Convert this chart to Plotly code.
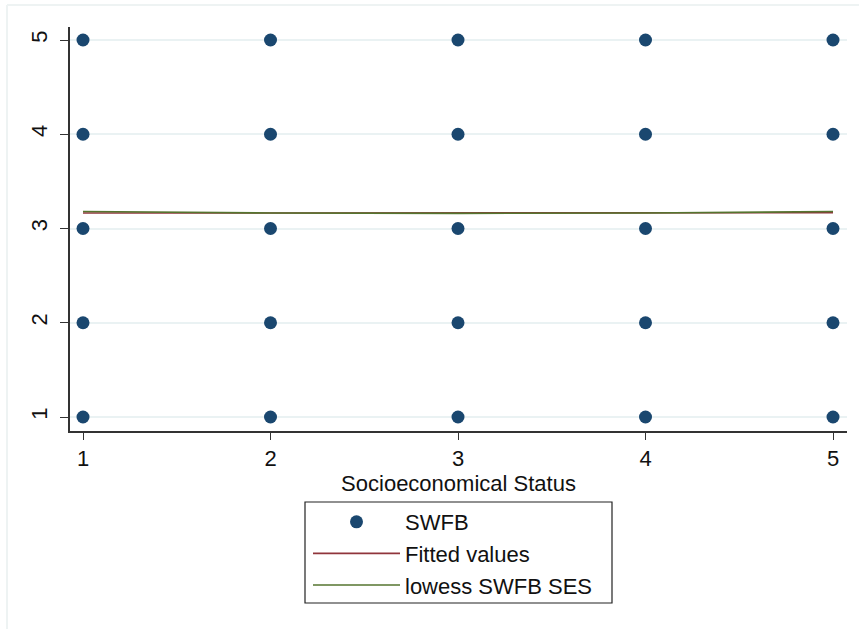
import plotly.graph_objects as go

# Observed SWFB scores by socioeconomic status (every combination occurs)
ses_obs = [1, 1, 1, 1, 1, 2, 2, 2, 2, 2, 3, 3, 3, 3, 3, 4, 4, 4, 4, 4, 5, 5, 5, 5, 5]
swfb_obs = [1, 2, 3, 4, 5, 1, 2, 3, 4, 5, 1, 2, 3, 4, 5, 1, 2, 3, 4, 5, 1, 2, 3, 4, 5]

# Linear fit
fit_x = [1, 2, 3, 4, 5]
fit_y = [3.164, 3.165, 3.166, 3.167, 3.168]

# Lowess smoother
low_x = [1, 2, 3, 4, 5]
low_y = [3.180, 3.165, 3.160, 3.164, 3.180]

tick_vals = [1, 2, 3, 4, 5]
tick_text = ["1", "2", "3", "4", "5"]

W, H = 859, 629
ML, MR, MT, MB = 70, 12, 27, 198
PW, PH = W - ML - MR, H - MT - MB

FONT = "Liberation Sans, Arial, sans-serif"
FS = 22
NAVY = "#1a476f"
RED = "#90353b"
GREEN = "#55752f"

fig = go.Figure()
fig.add_trace(go.Scatter(
    x=ses_obs, y=swfb_obs, mode="markers", name="SWFB",
    marker=dict(color=NAVY, size=13, line=dict(width=0)),
    legendgroup="a",
))
fig.add_trace(go.Scatter(
    x=fit_x, y=fit_y, mode="lines", name="Fitted values",
    line=dict(color=RED, width=1.6), legendgroup="b",
))
fig.add_trace(go.Scatter(
    x=low_x, y=low_y, mode="lines", name="lowess SWFB SES",
    line=dict(color=GREEN, width=1.6), legendgroup="c",
))


def px_x(p):
    return (p - ML) / PW


def px_y(p):
    return 1 - (p - MT) / PH


shapes = [
    # legend frame
    dict(type="rect", xref="paper", yref="paper",
         x0=px_x(305), x1=px_x(612), y0=px_y(603), y1=px_y(502),
         line=dict(color="#222222", width=1.2), fillcolor="rgba(0,0,0,0)"),
    # faint outer graph region border
    dict(type="line", xref="paper", yref="paper",
         x0=px_x(7), x1=px_x(7), y0=px_y(5), y1=px_y(640),
         line=dict(color="#eef3f3", width=2)),
    dict(type="line", xref="paper", yref="paper",
         x0=px_x(7), x1=px_x(870), y0=px_y(5), y1=px_y(5),
         line=dict(color="#eef3f3", width=2)),
]

fig.update_layout(
    width=W, height=H,
    margin=dict(l=ML, r=MR, t=MT, b=MB),
    paper_bgcolor="white", plot_bgcolor="white",
    font=dict(family=FONT, size=FS, color="#111111"),
    showlegend=True,
    legend=dict(
        x=px_x(308), y=px_y(501), xanchor="left", yanchor="top",
        xref="paper", yref="paper",
        bgcolor="rgba(0,0,0,0)", borderwidth=0,
        itemwidth=87, tracegroupgap=0,
        font=dict(family=FONT, size=FS, color="#111111"),
        traceorder="grouped",
    ),
    shapes=shapes,
    xaxis=dict(
        range=[1 - 13 / 187.5, 5 + 14 / 187.5],
        tickvals=tick_vals, ticktext=tick_text,
        ticks="outside", ticklen=7, tickwidth=1.3, tickcolor="#333333",
        showline=True, linecolor="#333333", linewidth=1.5,
        showgrid=False, zeroline=False,
        title=dict(text="Socioeconomical Status", standoff=2,
                   font=dict(family=FONT, size=FS)),
        tickfont=dict(family=FONT, size=FS),
    ),
    yaxis=dict(
        range=[1 - 14 / 94.25, 5 + 13 / 94.25],
        tickvals=tick_vals, ticktext=tick_text,
        ticks="outside", ticklen=8, tickwidth=1.3, tickcolor="#333333",
        showline=True, linecolor="#333333", linewidth=1.5,
        showgrid=True, gridcolor="#eaf2f3", gridwidth=1.5,
        zeroline=False, tickangle=-90, ticklabelstandoff=4,
        tickfont=dict(family=FONT, size=FS),
    ),
)

fig.write_html("out.html")
